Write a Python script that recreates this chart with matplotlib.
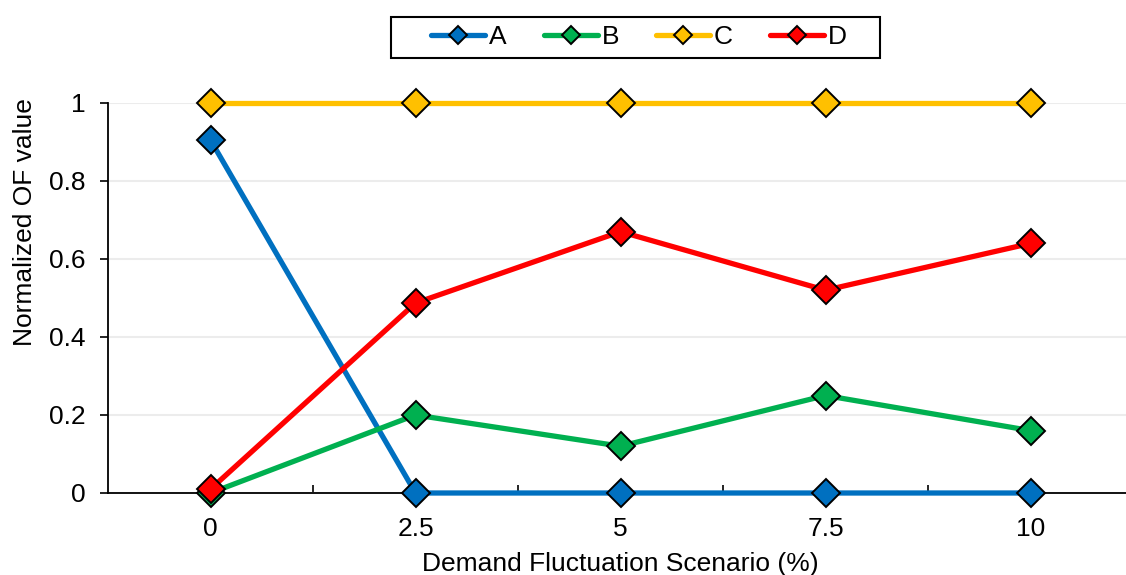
import matplotlib
matplotlib.use("Agg")
import matplotlib.pyplot as plt
from matplotlib.patches import Rectangle
import numpy as np

plt.rcParams['font.family'] = ['Liberation Sans', 'DejaVu Sans']

scenarios = ["0", "2.5", "5", "7.5", "10"]
series_a = [0.905, 0.0, 0.0, 0.0, 0.0]
series_b = [0.0, 0.20, 0.12, 0.25, 0.16]
series_c = [1.0, 1.0, 1.0, 1.0, 1.0]
series_d = [0.01, 0.487, 0.67, 0.52, 0.64]
names = ["A", "B", "C", "D"]
colors = ["#0070C0", "#00B050", "#FFC000", "#FF0000"]

FS = 19
W, H = 1126, 575
fig = plt.figure(figsize=(W / 100, H / 100), dpi=100)
# plot area extends slightly past the right edge of the canvas
left, right, bottom, top = 108, 1133, 493, 103
ax = fig.add_axes([left / W, 1 - bottom / H, (right - left) / W, (bottom - top) / H])

x = np.arange(len(scenarios))
for vals, name, col in zip([series_a, series_b, series_c, series_d], names, colors):
    ax.plot(x, vals, color=col, lw=3.8, marker='D', markersize=14,
            markerfacecolor=col, markeredgecolor='black', markeredgewidth=1.4,
            label=name, clip_on=False, zorder=3, solid_capstyle='round')

ax.set_xlim(-0.5, len(scenarios) - 0.5)
ax.set_ylim(0, 1)
ax.set_yticks([0, 0.2, 0.4, 0.6, 0.8, 1.0])
ax.set_yticklabels(["0", "0.2", "0.4", "0.6", "0.8", "1"])
ax.set_xticks(x)
ax.set_xticklabels(scenarios)
ax.set_xticks(np.arange(0.5, len(scenarios) - 1, 1.0), minor=True)
ax.tick_params(axis='x', which='major', length=0, pad=17, labelsize=FS)
ax.tick_params(axis='x', which='minor', direction='in', length=6, width=1.2, color='black')
ax.tick_params(axis='y', which='major', direction='out', length=6, width=1.2, labelsize=FS, pad=10)

ax.grid(axis='y', color='#ececec', lw=1.5, zorder=0)
ax.set_axisbelow(True)
for s in ['top', 'right']:
    ax.spines[s].set_visible(False)
for s in ['left', 'bottom']:
    ax.spines[s].set_color('black')
    ax.spines[s].set_linewidth(1.3)

fig.text(620 / W, 1 - 564 / H, "Demand Fluctuation Scenario (%)", fontsize=FS,
         ha='center', va='center')
fig.text(25 / W, 1 - 222 / H, "Normalized OF value", rotation=90, fontsize=FS,
         ha='center', va='center')

# legend entries without their own frame; box drawn separately
leg = fig.legend(loc='center', bbox_to_anchor=(639 / W, 1 - 37.5 / H), ncol=4,
                 frameon=False, fontsize=FS, handlelength=2.05, markerscale=0.68,
                 columnspacing=1.4, handletextpad=0.15, borderpad=0.0,
                 borderaxespad=0)
fig.patches.append(Rectangle((391 / W, 1 - 58 / H), (880 - 391) / W, (58 - 17) / H,
                             transform=fig.transFigure, fill=False,
                             edgecolor='black', lw=1.5))

fig.savefig("out.png", dpi=100)
